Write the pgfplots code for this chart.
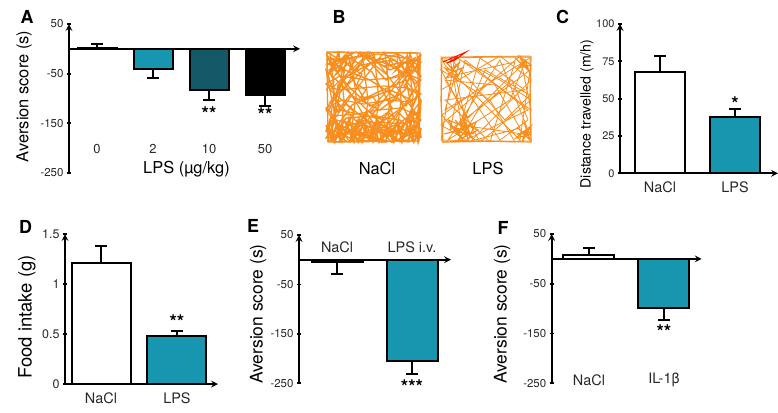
\documentclass[border=0pt]{standalone}
\usepackage{fontspec}
\setmainfont{TeX Gyre Heros}
\usepackage{pgfplots}
\pgfplotsset{compat=1.18}

\definecolor{tealA}{RGB}{24,150,176}
\definecolor{tealB}{RGB}{20,88,104}
\definecolor{orng}{RGB}{247,142,30}
\definecolor{tk}{RGB}{40,40,40}

\newcommand{\fTick}{\fontsize{11.5}{13}\selectfont}
\newcommand{\fCat}{\fontsize{14.5}{16}\selectfont}
\newcommand{\fPanel}{\fontsize{18}{20}\selectfont\bfseries}
\newcommand{\fStar}{\fontsize{19}{21}\selectfont\bfseries}

\pgfplotsset{
  panelbase/.style={
    scale only axis, anchor=south west, clip=false,
    ybar, bar shift=0pt,
    axis line style={-, line width=2bp, black},
    ytick style={line width=1.8bp, black},
    tick align=outside, major tick length=4bp,
    yticklabel style={font=\fTick, text=tk},
    xticklabel style={font=\fCat, text=tk, yshift=-3bp},
    every axis plot/.append style={draw=black, line width=2bp,
      /pgfplots/error bars/y dir=both,
      /pgfplots/error bars/y explicit,
      /pgfplots/error bars/error bar style={line width=2bp, black},
      /pgfplots/error bars/error mark options={rotate=90, line width=2bp, black, mark size=6bp}},
  },
}

\begin{document}
\begin{tikzpicture}
\path[use as bounding box] (0,0) rectangle (778bp,-413bp);

% ---------------- Panel A
\begin{axis}[panelbase, at={(69bp,-173bp)}, width=231bp, height=149bp,
  xmin=-0.5, xmax=3.625, ymin=-250, ymax=50,
  axis y line=left, axis x line=middle, xtick=\empty,
  ytick={-250,-150,-50,50}, yticklabels={-250,-150,-50,50}, bar width=39bp]
\addplot[fill=white] coordinates {(0,2) += (0,7)};
\addplot[fill=tealA] coordinates {(1,-41) -= (0,17)};
\addplot[fill=tealB] coordinates {(2,-82) -= (0,21)};
\addplot[fill=black] coordinates {(3,-92) -= (0,23)};
\node[font=\fStar, anchor=base, yshift=-10.5bp] at (axis cs:2,-123) {**};
\node[font=\fStar, anchor=base, yshift=-10.5bp] at (axis cs:3,-125) {**};
\node[font=\fontsize{13}{15}\selectfont, text=tk] at (axis cs:0,-202) {0};
\node[font=\fontsize{13}{15}\selectfont, text=tk] at (axis cs:1,-202) {2};
\node[font=\fontsize{13}{15}\selectfont, text=tk] at (axis cs:2,-202) {10};
\node[font=\fontsize{13}{15}\selectfont, text=tk] at (axis cs:3,-202) {50};
\end{axis}
\node[font=\fontsize{16.5}{18}\selectfont] at (186.5bp,-169bp) {LPS (µg/kg)};
\node[rotate=90, font=\fontsize{16.5}{18}\selectfont] at (24bp,-96.5bp) {Aversion score (s)};
\node[font=\fPanel] at (27bp,-17bp) {A};

% ---------------- Panel B (open-field tracks)
\begin{axis}[at={(320bp,-150bp)}, anchor=south west, scale only axis,
  width=220bp, height=105bp, xmin=320, xmax=540, ymin=45, ymax=150,
  y dir=reverse, hide axis, clip=false]
\addplot[orng, line width=1.4bp, mark=none] coordinates {
(327,52) (420,53) (419,141) (328,142) (327,52) (340,60) (365,55) (390,70) (415,58) (405,90)
(380,110) (350,95) (330,120) (360,140) (395,125) (418,138) (400,100) (370,80) (345,70) (335,100)
(355,120) (385,135) (410,115) (420,85) (395,60) (360,65) (338,85) (332,130) (350,138) (375,128)
(398,140) (415,125) (405,75) (380,58) (350,75) (365,100) (390,90) (412,100) (385,120) (340,110)
(328,75) (345,55) (372,72) (392,108) (368,138) (336,128) (352,105) (378,92) (402,82) (418,65)
(398,54) (372,62) (340,92) (330,140) (362,125) (395,132) (420,110) (408,140) (382,142) (355,130)
(334,138) (346,118) (374,116) (400,120) (416,132) (392,142) (360,134) (338,124) (329,110) (344,80)
(366,58) (386,80) (410,70) (396,96) (370,106) (350,88) (330,64) (356,52) (384,66) (406,62)
(418,95) (402,130) (376,140) (348,142) (330,132) (342,128) (366,120) (388,128) (410,136)};
\addplot[orng, line width=1.3bp, mark=none] coordinates {
(326,90) (334,82) (329,70) (337,64) (331,58) (342,62) (348,52) (355,60) (350,68) (362,74)
(357,84) (366,90) (360,98) (372,96) (378,104) (370,112) (380,118) (388,112) (394,118) (389,104)
(398,98) (406,106) (412,92) (404,86) (410,78) (416,84) (421,76) (414,68) (407,56) (399,64)
(391,58) (386,74) (376,66) (368,52) (362,62) (354,74) (346,86) (338,94) (330,102) (338,112)
(346,104) (354,112) (348,124) (358,128) (366,112) (374,124) (382,128) (390,122) (398,112) (406,120)
(414,112) (420,122)};
\addplot[orng, line width=1.2bp, mark=none] coordinates {
(326,60) (352,58) (378,54) (404,58) (421,62) (412,74) (392,78) (366,80) (340,76) (326,84)
(338,90) (360,88) (384,86) (408,88) (421,94) (410,102) (388,100) (364,104) (342,100) (326,108)
(334,116) (356,114) (378,110) (400,108) (420,116) (404,124) (380,122) (356,124) (336,120) (326,138)
(346,134) (370,132) (394,134) (418,132)};
\addplot[orng, line width=1.2bp, mark=none] coordinates {
(330,53) (334,90) (328,141) (340,142) (344,100) (339,52) (351,53) (356,96) (350,141) (363,142)
(368,100) (362,53) (374,53) (379,100) (373,141) (386,142) (390,96) (385,53) (397,53) (401,100)
(396,141) (409,142) (413,96) (407,53) (417,53) (419,100) (415,141)};
\addplot[orng, line width=1.2bp, mark=none] coordinates {
(326,53) (380,142) (421,80) (360,52) (326,110) (350,142) (421,54) (340,142) (326,70) (400,142)
(421,120) (370,52) (330,90) (392,142) (421,100) (384,52) (326,130)};
\addplot[orng, line width=1.6bp, mark=none] coordinates {
(326,125) (332,140) (337,122) (342,141) (347,124) (352,139) (357,121) (362,142) (367,126) (372,138)
(377,120) (382,141) (387,125) (392,139) (397,122) (402,142) (407,127) (412,140) (417,123) (421,138)
(420,130) (414,142) (409,119) (404,135) (399,128) (394,142) (389,121) (384,133) (379,142) (374,124)
(369,140) (364,130) (359,119) (354,142) (349,131) (344,120) (339,134) (334,142) (329,128)};
\addplot[orng, line width=1.6bp, mark=none] coordinates {
(326,132) (330,120) (335,142) (339,127) (344,138) (349,118) (353,133) (358,142) (363,122) (368,134)
(373,142) (378,129) (383,119) (388,137) (393,130) (398,120) (403,139) (408,131) (413,118) (418,142) (421,128)};
\addplot[orng, line width=1.6bp, mark=none] coordinates {
(327,55) (333,70) (338,53) (343,72) (348,56) (352,68) (345,62) (335,60) (330,72) (340,66)
(328,64) (346,58) (336,74) (350,62)};
\addplot[orng, line width=1.6bp, mark=none] coordinates {
(398,55) (405,72) (410,54) (415,70) (420,57) (412,64) (402,62) (396,70) (408,60) (418,74)
(420,55) (418,140) (421,100)};
% LPS
\addplot[orng, line width=0.8bp, mark=none] coordinates {
(442,57) (530,56) (531,141) (442,142) (441,57) (445,65) (520,140) (530,70) (450,130) (465,60)
(528,110) (470,138) (455,75) (515,62) (490,142) (445,100) (525,90) (480,58) (460,125) (530,135)
(500,60) (448,140) (510,100) (525,62) (468,118) (445,80) (495,85) (520,128) (475,140) (462,128)
(450,58) (505,120) (530,95) (485,70) (458,135) (442,115) (470,95) (500,140) (528,120) (512,80)
(478,110) (465,132)};
\addplot[orng, line width=0.8bp, mark=none] coordinates {
(441,90) (500,56) (531,80) (470,142) (441,125) (520,56) (531,110) (455,56) (441,140) (515,142)
(490,100) (441,70) (480,142) (531,100) (500,80) (460,60) (445,110) (530,58)};
\addplot[orng, line width=1.2bp, mark=none] coordinates {
(442,58) (441,100) (443,142) (490,141) (531,142) (530,100) (531,57) (490,57) (442,58)};
\addplot[orng, line width=1.2bp, mark=none] coordinates {
(455,120) (472,138) (462,115) (468,140) (476,122) (452,132) (470,125) (458,140) (478,130) (460,122)
(466,135) (450,126) (474,134) (456,128) (464,142) (448,120) (468,128) (444,134)};
\addplot[orng, line width=1.2bp, mark=none] coordinates {
(518,128) (530,140) (524,122) (528,135) (516,138) (531,126) (522,142) (526,130) (519,134) (531,132)};
\addplot[orng, line width=1.2bp, mark=none] coordinates {
(444,60) (458,75) (446,78) (460,62) (450,70) (445,68) (456,80) (462,68) (448,74)};
\addplot[orng, line width=1.2bp, mark=none] coordinates {
(515,58) (528,70) (520,57) (531,65) (518,68) (525,60) (530,74)};
\addplot[red!85!orange, line width=1bp, mark=none] coordinates {
(443,62) (466,52) (455,60) (447,63) (458,57)};
\end{axis}
\node[font=\fontsize{16.5}{18}\selectfont] at (377bp,-169bp) {NaCl};
\node[font=\fontsize{16.5}{18}\selectfont] at (488bp,-169bp) {LPS};
\node[font=\fPanel] at (339bp,-17bp) {B};

% ---------------- Panel C
\begin{axis}[panelbase, at={(620bp,-173.3bp)}, width=158bp, height=149.3bp,
  xmin=-0.533, xmax=1.573, ymin=0, ymax=100,
  axis y line=left, axis x line=bottom,
  xtick={0,1}, xticklabels={NaCl,LPS}, x tick style={draw=none},
  ytick={0,25,50,75,100}, yticklabels={0,25,50,75,100},
  yticklabel style={font=\fontsize{11}{13}\selectfont}, bar width=50bp]
\addplot[fill=white] coordinates {(0,67.6) += (0,11.2)};
\addplot[fill=tealA] coordinates {(1,37.5) += (0,5.4)};
\node[font=\fStar, anchor=base, yshift=-10.5bp] at (axis cs:1,49) {*};
\end{axis}
\node[rotate=90, font=\fontsize{14.2}{16}\selectfont] at (587bp,-114bp) {Distance travelled (m/h)};
\node[font=\fPanel] at (562.5bp,-16.5bp) {C};

% ---------------- Panel D
\begin{axis}[panelbase, at={(65bp,-384bp)}, width=153bp, height=150bp,
  xmin=-0.474, xmax=1.54, ymin=0, ymax=1.5,
  axis y line=left, axis x line=bottom,
  xtick={0,1}, xticklabels={NaCl,LPS}, x tick style={draw=none},
  ytick={0,0.5,1,1.5}, yticklabels={0,0.5,1,1.5},
  yticklabel style={font=\fontsize{12.5}{14}\selectfont}, bar width=59bp]
\addplot[fill=white] coordinates {(0,1.213) += (0,0.17)};
\addplot[fill=tealA] coordinates {(1,0.483) += (0,0.05)};
\node[font=\fStar, anchor=base, yshift=-10.5bp] at (axis cs:1,0.66) {**};
\end{axis}
\node[rotate=90, font=\fontsize{18.5}{20}\selectfont] at (27bp,-317bp) {Food intake (g)};
\node[font=\fPanel] at (25.5bp,-226.5bp) {D};

% ---------------- Panel E
\begin{axis}[panelbase, at={(299bp,-383.3bp)}, width=152bp, height=148.3bp,
  xmin=-0.507, xmax=1.52, ymin=-250, ymax=50,
  axis y line=left, axis x line=middle, xtick=\empty,
  ytick={-250,-150,-50,50}, yticklabels={-250,-150,-50,50}, bar width=51bp]
\addplot[fill=white] coordinates {(0,-4) -= (0,25)};
\addplot[fill=tealA] coordinates {(1,-205) -= (0,26)};
\node[font=\fStar, anchor=base, yshift=-10.5bp] at (axis cs:1,-249) {***};
\node[font=\fCat, text=tk] at (axis cs:0,26) {NaCl};
\node[font=\fCat, text=tk] at (axis cs:1,26) {LPS i.v.};
\end{axis}
\node[rotate=90, font=\fontsize{17.5}{19}\selectfont] at (258bp,-314bp) {Aversion score (s)};
\node[font=\fPanel] at (253bp,-226bp) {E};

% ---------------- Panel F
\begin{axis}[panelbase, at={(551.7bp,-383.3bp)}, width=150bp, height=149.3bp,
  xmin=-0.497, xmax=1.503, ymin=-250, ymax=50,
  axis y line=left, axis x line=middle, xtick=\empty,
  ytick={-250,-150,-50,50}, yticklabels={-250,-150,-50,50}, bar width=51bp]
\addplot[fill=white] coordinates {(0,7) += (0,14)};
\addplot[fill=tealA] coordinates {(1,-99) -= (0,23)};
\node[font=\fStar, anchor=base, yshift=-10.5bp] at (axis cs:1,-139) {**};
\node[font=\fCat, text=tk] at (axis cs:0,-243) {NaCl};
\node[font=\fCat, text=tk] at (axis cs:1,-243) {IL-1β};
\end{axis}
\node[rotate=90, font=\fontsize{17.5}{19}\selectfont] at (502bp,-314bp) {Aversion score (s)};
\node[font=\fPanel] at (503bp,-227.5bp) {F};
\end{tikzpicture}
\end{document}
